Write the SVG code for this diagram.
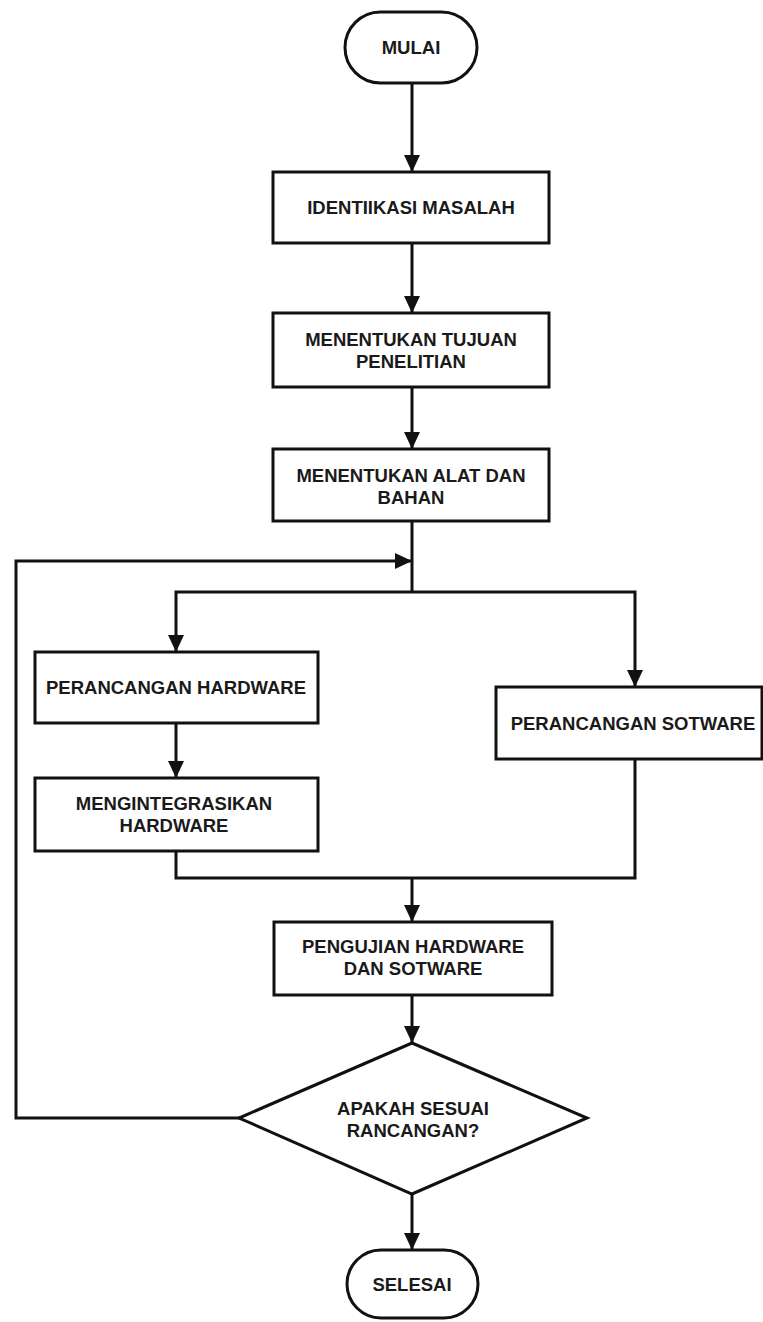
<svg xmlns="http://www.w3.org/2000/svg" width="763" height="1322" viewBox="0 0 763 1322">
<style>
.box{fill:#fff;stroke:#111;stroke-width:3}
.t{font-family:"Liberation Sans",Arial,sans-serif;font-weight:bold;font-size:18.5px;fill:#1a1a1a;text-anchor:middle}
.c{fill:none;stroke:#111;stroke-width:3}
</style>
<defs>
<marker id="ah" markerUnits="userSpaceOnUse" markerWidth="17" markerHeight="16" refX="17" refY="8" orient="auto" viewBox="0 0 17 16">
<path d="M0,0 L17,8 L0,16 z" fill="#111"/>
</marker>
</defs>
<rect width="763" height="1322" fill="#fff"/>
<g id="connectors">
<path class="c" d="M412,83 V172" marker-end="url(#ah)"/>
<path class="c" d="M412,243 V313" marker-end="url(#ah)"/>
<path class="c" d="M412,387 V449" marker-end="url(#ah)"/>
<path class="c" d="M412,521 V592"/>
<path class="c" d="M412,592 H176 V652" marker-end="url(#ah)"/>
<path class="c" d="M412,592 H635 V687" marker-end="url(#ah)"/>
<path class="c" d="M176,723 V778" marker-end="url(#ah)"/>
<path class="c" d="M176,851 V878 H635 V759"/>
<path class="c" d="M412,878 V922" marker-end="url(#ah)"/>
<path class="c" d="M412,995 V1043" marker-end="url(#ah)"/>
<path class="c" d="M412,1194 V1250" marker-end="url(#ah)"/>
<path class="c" d="M240,1118 H16 V561 H412" marker-end="url(#ah)"/>
</g>
<g id="mulai">
<rect class="box" x="345" y="12" width="132" height="71" rx="35.5"/>
<text class="t" x="411" y="54">MULAI</text>
</g>
<g id="identifikasi">
<rect class="box" x="273" y="172" width="276" height="71"/>
<text class="t" x="411" y="214">IDENTIIKASI MASALAH</text>
</g>
<g id="tujuan">
<rect class="box" x="273" y="313" width="276" height="74"/>
<text class="t" x="411" y="346">MENENTUKAN TUJUAN</text>
<text class="t" x="411" y="368">PENELITIAN</text>
</g>
<g id="alat">
<rect class="box" x="273" y="449" width="276" height="72"/>
<text class="t" x="411" y="482">MENENTUKAN ALAT DAN</text>
<text class="t" x="411" y="504">BAHAN</text>
</g>
<g id="hardware">
<rect class="box" x="35" y="652" width="283" height="71"/>
<text class="t" x="176" y="694">PERANCANGAN HARDWARE</text>
</g>
<g id="software">
<rect class="box" x="496" y="687" width="266" height="72"/>
<text class="t" x="633" y="730">PERANCANGAN SOTWARE</text>
</g>
<g id="integrasi">
<rect class="box" x="35" y="778" width="283" height="73"/>
<text class="t" x="174" y="810">MENGINTEGRASIKAN</text>
<text class="t" x="174" y="832">HARDWARE</text>
</g>
<g id="pengujian">
<rect class="box" x="274" y="922" width="278" height="73"/>
<text class="t" x="413" y="953">PENGUJIAN HARDWARE</text>
<text class="t" x="413" y="975">DAN SOTWARE</text>
</g>
<g id="keputusan">
<polygon class="box" points="412,1043 587,1118 412,1194 239,1118"/>
<text class="t" x="413" y="1115">APAKAH SESUAI</text>
<text class="t" x="413" y="1137">RANCANGAN?</text>
</g>
<g id="selesai">
<rect class="box" x="347" y="1250" width="131" height="68" rx="34"/>
<text class="t" x="412" y="1291">SELESAI</text>
</g>
</svg>
